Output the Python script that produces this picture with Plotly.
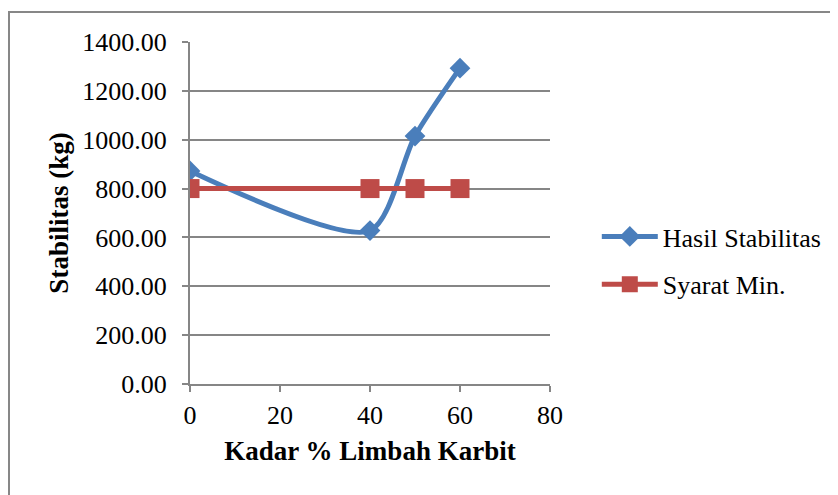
import plotly.graph_objects as go

kadar = [0, 40, 50, 60]
hasil_stabilitas = [872, 628, 1015, 1293]
syarat_min = [800, 800, 800, 800]

blue = "#4a7ebb"
red = "#be4b48"
grid = "#868686"
serif = "Liberation Serif, Times New Roman, serif"

fig = go.Figure()
fig.add_trace(go.Scatter(x=kadar, y=hasil_stabilitas, name="Hasil Stabilitas", legendgroup="a",
                         mode="lines+markers", line=dict(color=blue, width=5, shape="spline", smoothing=0.75),
                         marker=dict(symbol="diamond", size=16, color=blue)))
fig.add_trace(go.Scatter(x=kadar, y=syarat_min, name="Syarat Min.", legendgroup="b",
                         mode="lines+markers", line=dict(color=red, width=5),
                         marker=dict(symbol="square", size=19, color=red)))

# the page body adds 8px, so margins are shifted by that
fig.update_layout(
    width=838, height=495,
    margin=dict(l=182, r=296, t=34, b=119),
    paper_bgcolor="white", plot_bgcolor="white",
    font=dict(family=serif, size=26, color="black"),
    showlegend=True,
    legend=dict(x=1.13, y=0.361, xanchor="left", yanchor="middle",
                font=dict(family=serif, size=26), itemwidth=56, tracegroupgap=11,
                bgcolor="rgba(0,0,0,0)"),
    xaxis=dict(range=[0, 80], tickvals=[0, 20, 40, 60, 80], showgrid=False, zeroline=False,
               showline=True, linecolor=grid, linewidth=2, ticks="outside", ticklen=6,
               tickcolor=grid, tickwidth=2, tickfont=dict(size=26), ticklabelstandoff=1,
               title=dict(text="<b>Kadar % Limbah Karbit</b>", font=dict(size=27), standoff=12)),
    yaxis=dict(range=[0, 1400], tickvals=[0, 200, 400, 600, 800, 1000, 1200, 1400], tickformat=".2f",
               showgrid=True, gridcolor=grid, gridwidth=2, zeroline=False,
               showline=True, linecolor=grid, linewidth=2, ticks="outside", ticklen=6,
               tickcolor=grid, tickwidth=2, tickfont=dict(size=26), ticklabelstandoff=10,
               title=dict(text="<b>Stabilitas (kg)</b>", font=dict(size=27), standoff=6)),
)

# outer chart frame
fig.add_shape(type="rect", xref="paper", yref="paper",
              x0=(1 - 182) / 360, x1=(850 - 182) / 360,
              y0=(376 - 510) / 342, y1=(376 - 4) / 342,
              line=dict(color="#878787", width=2), layer="below")

fig.write_html("out.html")
